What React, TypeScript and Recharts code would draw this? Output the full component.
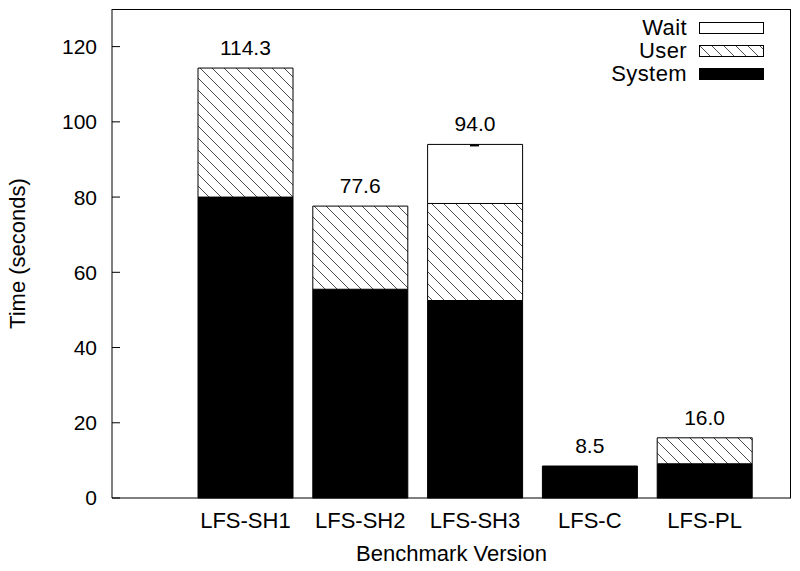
import { ComposedChart, Bar, XAxis, YAxis, Scatter, Legend } from 'recharts';

const categories = ['LFS-SH1', 'LFS-SH2', 'LFS-SH3', 'LFS-C', 'LFS-PL'];
const systemTime = [80.0, 55.5, 52.5, 8.5, 9.1];
const userTime = [34.3, 22.1, 25.8, 0, 6.9];
const waitTime = [0, 0, 15.7, 0, 0];
const totalTime = [114.3, 77.6, 94.0, 8.5, 16.0];
const errMark = [null, null, 94.0, null, null];
const yTicks = [0, 20, 40, 60, 80, 100, 120];
const legendItems = ['Wait', 'User', 'System'];

const data = categories.map((name, i) => ({
  name,
  system: systemTime[i],
  user: userTime[i],
  wait: waitTime[i],
  total: totalTime[i],
  err: errMark[i],
}));

const FONT = '"Liberation Sans", Arial, Helvetica, sans-serif';
const W = 800;
const H = 571;
const MARGIN = { top: 9, right: 9, left: 0, bottom: 0 };
const Y_AXIS_W = 112;
const X_AXIS_H = 73;

const YTick = (props: any) => {
  const { x, y, payload } = props;
  return (
    <g>
      <line x1={x + 15} x2={x + 23} y1={y} y2={y} stroke="#000" strokeWidth={1} />
      <text x={x} y={y} dy="0.355em" textAnchor="end" fontSize={21} fontFamily={FONT} fill="#000">
        {payload.value}
      </text>
    </g>
  );
};

// total printed above each stack
const TotalLabel = (props: any) => {
  const { cx, cy, payload } = props;
  if (payload == null || !isFinite(cx) || !isFinite(cy)) return null;
  return (
    <text x={cx} y={cy - 13} textAnchor="middle" fontSize={21} fontFamily={FONT} fill="#000">
      {Number(payload.total).toFixed(1)}
    </text>
  );
};

const ErrDash = (props: any) => {
  const { cx, cy, payload } = props;
  if (payload == null || payload.err == null || !isFinite(cy)) return null;
  return <line x1={cx - 5} x2={cx + 4} y1={cy + 1} y2={cy + 1} stroke="#000" strokeWidth={2} />;
};

const Swatch = ({ kind }: { kind: string }) => (
  <svg width={65} height={12} style={{ display: 'block' }}>
    <defs>
      <pattern id="hatchLegend" width="12" height="12" patternUnits="userSpaceOnUse">
        <path d="M0,0 L12,12 M-6,6 L6,18 M6,-6 L18,6" stroke="#000" strokeWidth={0.7} />
      </pattern>
    </defs>
    <rect
      x={0.5}
      y={0.5}
      width={64}
      height={11}
      fill={kind === 'System' ? '#000' : kind === 'User' ? 'url(#hatchLegend)' : '#fff'}
      stroke="#000"
      strokeWidth={1}
    />
  </svg>
);

const renderLegend = () => (
  <div style={{ fontFamily: FONT, fontSize: 22, color: '#000' }}>
    {legendItems.map((item) => (
      <div key={item} style={{ display: 'flex', alignItems: 'center', height: 23 }}>
        <div style={{ width: 127, textAlign: 'right', lineHeight: '23px', letterSpacing: 0.4 }}>{item}</div>
        <div style={{ marginLeft: 12 }}>
          <Swatch kind={item} />
        </div>
      </div>
    ))}
  </div>
);

export default function App() {
  return (
    <div style={{ position: 'absolute', left: 0, top: 0, width: W, height: H, background: '#fff' }}>
      <ComposedChart width={W} height={H} data={data} margin={MARGIN} style={{ fontFamily: FONT }}>
        <defs>
          <pattern id="hatch" width="12" height="12" patternUnits="userSpaceOnUse">
            <rect width="12" height="12" fill="#fff" />
            <path d="M0,0 L12,12 M-6,6 L6,18 M6,-6 L18,6" stroke="#000" strokeWidth={0.7} />
          </pattern>
        </defs>
        <XAxis
          dataKey="name"
          height={X_AXIS_H}
          padding={{ left: 76, right: 29 }}
          tickLine={false}
          tickSize={0}
          tickMargin={14}
          axisLine={{ stroke: '#000', strokeWidth: 1 }}
          tick={{ fill: '#000', fontSize: 22, fontFamily: FONT }}
          label={{ value: 'Benchmark Version', position: 'insideBottom', offset: 10, fill: '#000', fontSize: 22, fontFamily: FONT }}
        />
        <YAxis
          width={Y_AXIS_W}
          domain={[0, 130]}
          ticks={yTicks}
          tickSize={0}
          tickMargin={15}
          tickLine={false}
          axisLine={{ stroke: '#000', strokeWidth: 1 }}
          tick={<YTick />}
          label={{
            value: 'Time (seconds)',
            angle: -90,
            position: 'insideLeft',
            offset: 17,
            fill: '#000',
            fontSize: 22,
            fontFamily: FONT,
            style: { textAnchor: 'middle' },
          }}
        />
        <Legend
          layout="vertical"
          align="center"
          verticalAlign="middle"
          content={renderLegend}
          wrapperStyle={{ position: 'absolute', top: 16, left: 560, width: 210 }}
        />
        <Bar dataKey="system" stackId="t" barSize={95} fill="#000" stroke="#000" strokeWidth={1} isAnimationActive={false} />
        <Bar dataKey="user" stackId="t" barSize={95} fill="url(#hatch)" stroke="#000" strokeWidth={1} isAnimationActive={false} />
        <Bar dataKey="wait" stackId="t" barSize={95} fill="#fff" stroke="#000" strokeWidth={1} isAnimationActive={false} />
        <Scatter dataKey="total" shape={<TotalLabel />} legendType="none" isAnimationActive={false} />
        <Scatter dataKey="err" shape={<ErrDash />} legendType="none" isAnimationActive={false} />
      </ComposedChart>
      {/* top and right edges of the plot box, same rectangle as the chart's plot area */}
      <div
        style={{
          position: 'absolute',
          left: MARGIN.left + Y_AXIS_W,
          top: MARGIN.top,
          width: W - MARGIN.left - MARGIN.right - Y_AXIS_W,
          height: H - MARGIN.top - MARGIN.bottom - X_AXIS_H,
          borderTop: '1px solid #000',
          borderRight: '1px solid #000',
          boxSizing: 'border-box',
          pointerEvents: 'none',
        }}
      />
    </div>
  );
}
